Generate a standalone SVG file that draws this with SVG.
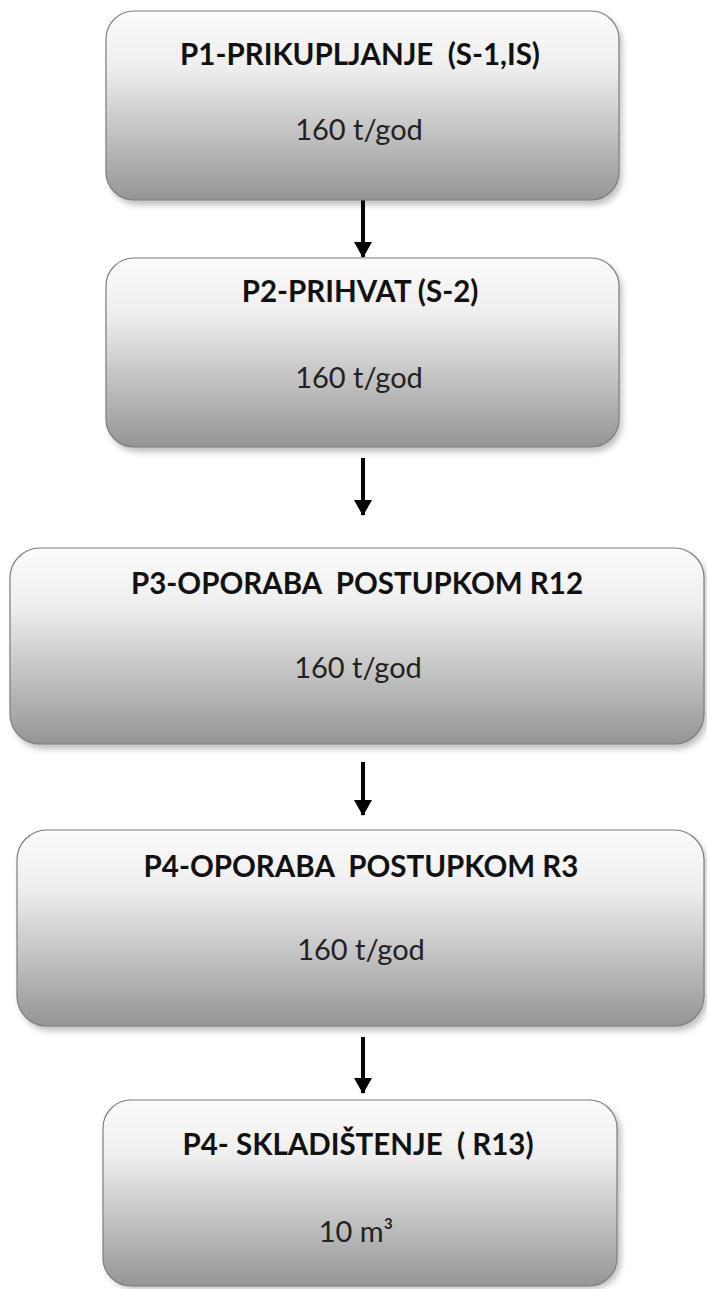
<svg xmlns="http://www.w3.org/2000/svg" width="707" height="1289" viewBox="0 0 707 1289">
<style>
.box{fill:url(#g);stroke:#7f7f7f;stroke-width:1.2}
.sh{fill:#000;opacity:0.25;filter:url(#blur)}
.t{font-family:Lato,"Liberation Sans",sans-serif;font-weight:bold;font-size:29.5px;fill:#111;text-anchor:middle;white-space:pre}
.v{font-family:Lato,"Liberation Sans",sans-serif;font-size:29px;fill:#222;text-anchor:middle;white-space:pre}
</style>
<defs>
<linearGradient id="g" x1="0" y1="0" x2="0" y2="1">
<stop offset="0" stop-color="#fbfbfb"/>
<stop offset="0.3" stop-color="#eeeeee"/>
<stop offset="1" stop-color="#959595"/>
</linearGradient>
<filter id="blur" x="-10%" y="-10%" width="120%" height="130%"><feGaussianBlur stdDeviation="3"/></filter>
<marker id="ah2" markerUnits="userSpaceOnUse" markerWidth="20" markerHeight="18" refX="15" refY="9" orient="auto" viewBox="0 0 16 18">
<path d="M0 0 L16 9 L0 18 Z" fill="#000"/>
</marker>
</defs>
<g id="connectors">
<line x1="363" y1="200" x2="363" y2="257" stroke="#000" stroke-width="4" marker-end="url(#ah2)"/>
<line x1="363" y1="458" x2="363" y2="515" stroke="#000" stroke-width="4" marker-end="url(#ah2)"/>
<line x1="363" y1="762" x2="363" y2="815" stroke="#000" stroke-width="4" marker-end="url(#ah2)"/>
<line x1="363" y1="1037" x2="363" y2="1093" stroke="#000" stroke-width="4" marker-end="url(#ah2)"/>
</g>
<g id="n1">
<rect class="sh" x="109" y="15" width="513" height="190" rx="28"/>
<rect class="box" x="106" y="11" width="513" height="189" rx="28"/>
<text class="t" x="360" y="65" xml:space="preserve">P1-PRIKUPLJANJE  (S-1,IS)</text>
<text class="v" x="359" y="140">160 t/god</text>
</g>
<g id="n2">
<rect class="sh" x="109" y="262" width="513" height="190" rx="28"/>
<rect class="box" x="106" y="258" width="513" height="189" rx="28"/>
<text class="t" x="360" y="302">P2-PRIHVAT (S-2)</text>
<text class="v" x="359" y="388">160 t/god</text>
</g>
<g id="n3">
<rect class="sh" x="13" y="552" width="694" height="197" rx="30"/>
<rect class="box" x="10" y="548" width="694" height="196" rx="30"/>
<text class="t" x="357" y="594" xml:space="preserve">P3-OPORABA  POSTUPKOM R12</text>
<text class="v" x="358" y="678">160 t/god</text>
</g>
<g id="n4">
<rect class="sh" x="20" y="834" width="687" height="197" rx="30"/>
<rect class="box" x="17" y="830" width="687" height="196" rx="30"/>
<text class="t" x="361" y="877" xml:space="preserve">P4-OPORABA  POSTUPKOM R3</text>
<text class="v" x="361" y="960">160 t/god</text>
</g>
<g id="n5">
<rect class="sh" x="106" y="1104" width="515" height="185" rx="28"/>
<rect class="box" x="103" y="1100" width="514" height="186" rx="28"/>
<text class="t" x="358" y="1155" xml:space="preserve">P4- SKLADIŠTENJE  ( R13)</text>
<text class="v" x="356" y="1242">10 m³</text>
</g>
</svg>
